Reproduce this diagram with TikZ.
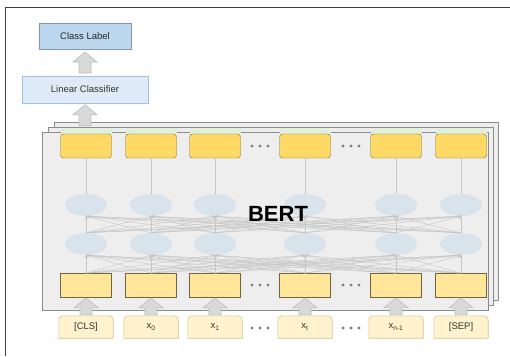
\documentclass[tikz,border=0pt]{standalone}
\usepackage{fontspec}
\setmainfont{Liberation Sans}
\usetikzlibrary{shapes.geometric, arrows.meta, calc, backgrounds}

\definecolor{labelblue}{HTML}{BDD7EE}
\definecolor{labeledge}{HTML}{8497B0}
\definecolor{linblue}{HTML}{DEEBF7}
\definecolor{linedge}{HTML}{9DC3E6}
\definecolor{outyellow}{HTML}{FFD966}
\definecolor{outedge}{HTML}{7F6F3F}
\definecolor{embyellow}{HTML}{FFE699}
\definecolor{embedge}{HTML}{6F6340}
\definecolor{tokyellow}{HTML}{FFF2CC}
\definecolor{tokedge}{HTML}{D6C48F}
\definecolor{hidblue}{HTML}{D9E3EC}
\definecolor{hidgreen}{HTML}{E2EFDA}
\definecolor{layerfill}{HTML}{EEEEEE}
\definecolor{layeredge}{HTML}{8C8C8C}
\definecolor{linkgray}{HTML}{C6C6C6}
\definecolor{fatfill}{HTML}{D9D9D9}
\definecolor{fatedge}{HTML}{BDBDBD}
\definecolor{dotgray}{HTML}{7F7F7F}

\begin{document}
\begin{tikzpicture}[%
        x = 1pt, y = -1pt,
        font = \fontsize{9.5}{11}\selectfont,
        classbox/.style = {%
            draw = labeledge, fill = labelblue, text = black!85,
            minimum width = 92, minimum height = 26
        },
        linbox/.style = {%
            draw = linedge, fill = linblue, text = black!80,
            minimum width = 126, minimum height = 27
        },
        layer/.style = {draw = layeredge, fill = layerfill, line width = 0.6pt},
        outbox/.style = {%
            draw = outedge, fill = outyellow, rounded corners = 3pt,
            minimum width = 51, minimum height = 24
        },
        hidden/.style = {%
            ellipse, fill = hidblue,
            minimum width = 42, minimum height = 22
        },
        embbox/.style = {%
            draw = embedge, fill = embyellow,
            minimum width = 51, minimum height = 23.5
        },
        tokbox/.style = {%
            minimum width = 54, minimum height = 22, text = black!80
        },
        tokshape/.style = {draw = tokedge, fill = tokyellow, line width = 0.6pt},
        link/.style = {%
            draw = linkgray, line width = 0.45pt,
            -{Stealth[length = 3pt, width = 3pt]}
        },
        pics/liftarrow/.style = {%
            code = {%
                \filldraw[fill = fatfill, draw = fatedge, line width = 0.6pt]
                    (-6, {#1/2}) -- (-6, {-#1/2 + 10}) -- (-12, {-#1/2 + 10})
                    -- (0, {-#1/2}) -- (12, {-#1/2 + 10}) -- (6, {-#1/2 + 10})
                    -- (6, {#1/2}) -- cycle;
            }
        }
    ]

        \useasboundingbox (0, 0) rectangle (510, 356);

        % Frame along the top and left edge.
        \draw[black!75, line width = 1pt] (5, 356) -- (5, 7) -- (510, 7);

        % Classifier head.
        \node[classbox] (cls) at (85, 36) {Class Label};
        \node[linbox] (lin) at (85, 89.5) {Linear Classifier};
        \pic at ($(lin.north)!0.5!(cls.south)$) {liftarrow = 21};

        % Stacked encoder layers, back to front.
        \draw[layer] (54, 122) rectangle (498, 300);
        \draw[layer] (48, 127) rectangle (493, 305);
        \draw[layer] (42, 132) rectangle (488, 310);

        \pic at ($(lin.south) + (0, 12)$) {liftarrow = 21};

        % One column per token position.
        \foreach \x [count = \i] in {86, 151, 215, 305, 396, 461}{%
            \fill[hidgreen] (\x - 25.5, 128) rectangle (\x + 25.5, 140);
            \node[outbox] (o\i) at (\x, 146) {};
            \node[hidden] (u\i) at (\x, 205) {};
            \node[hidden] (l\i) at (\x, 244) {};
            \node[embbox] (e\i) at (\x, 285) {};
        }

        % Connections between the layers.
        \foreach \i in {1, ..., 6}{%
            \draw[linkgray, line width = 0.45pt] (u\i.north) -- (o\i.south);
            \foreach \j in {1, ..., 6}{%
                \draw[link] (l\j.north) -- (u\i.south);
                \draw[link] (e\j.north) -- (l\i.south);
            }
        }

        \node[font = \fontsize{22}{26}\selectfont\bfseries] (bert) at (278, 214) {BERT};

        % Input tokens with rounded tops.
        \foreach \x/\tok [count = \i] in {%
            86/{[CLS]}, 151/x\textsubscript{0}, 215/x\textsubscript{1},
            305/x\textsubscript{t}, 396/x\textsubscript{n-1}, 461/{[SEP]}}{%
            \node[tokbox] (t\i) at (\x, 327) {\tok};
            \begin{scope}[on background layer]
                \filldraw[tokshape] (t\i.south west) [rounded corners = 4pt]
                    -- (t\i.north west) -- (t\i.north east) [sharp corners]
                    -- (t\i.south east) -- cycle;
            \end{scope}
            \pic at ($(t\i.north)!0.5!(e\i.south)$) {liftarrow = 17};
        }

        % Ellipsis dots between the columns.
        \foreach \y in {146, 285, 328}{%
            \foreach \x in {260, 351}{%
                \foreach \d in {-8, 0, 8}{%
                    \fill[dotgray] (\x + \d, \y) circle (1.6);
                }
            }
        }
    \end{tikzpicture}
\end{document}
